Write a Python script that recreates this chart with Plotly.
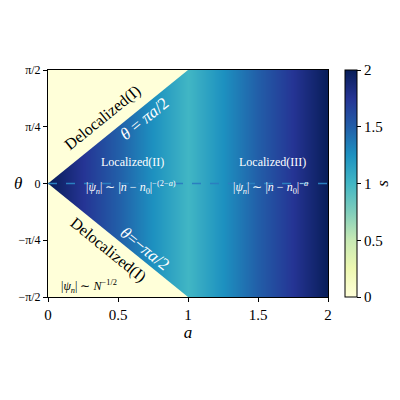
import math
import plotly.graph_objects as go

# ---- data ----
a_vals = [0.0, 0.1, 0.2, 0.3, 0.4, 0.5, 0.6, 0.7, 0.8, 0.9, 1.0,
          1.1, 1.2, 1.3, 1.4, 1.5, 1.6, 1.7, 1.8, 1.9, 2.0]
s_vals = [2.0, 1.9, 1.8, 1.7, 1.6, 1.5, 1.4, 1.3, 1.2, 1.1, 1.0,
          1.1, 1.2, 1.3, 1.4, 1.5, 1.6, 1.7, 1.8, 1.9, 2.0]
theta_edges = [-math.pi / 2, math.pi / 2]

# delocalized wedges (boundary theta = +/- pi a / 2)
deloc_up_a = [0.0, 1.0, 0.0]
deloc_up_theta = [0.0, math.pi / 2, math.pi / 2]
deloc_dn_a = [0.0, 1.0, 0.0]
deloc_dn_theta = [0.0, -math.pi / 2, -math.pi / 2]

dash_a = [0.0, 2.0]
dash_theta = [0.0, 0.0]

ytick_vals = [-math.pi / 2, -math.pi / 4, 0, math.pi / 4, math.pi / 2]
ytick_text = ["−π/2", "−π/4", "0", "π/4", "π/2"]
xtick_vals = [0, 0.5, 1, 1.5, 2]
xtick_text = ["0", "0.5", "1", "1.5", "2"]
cbar_vals = [0, 0.5, 1, 1.5, 2]
cbar_text = ["0", "0.5", "1", "1.5", "2"]

ylgnbu = [[0.0, "#ffffd9"], [0.125, "#edf8b1"], [0.25, "#c7e9b4"],
          [0.375, "#7fcdbb"], [0.5, "#41b6c4"], [0.625, "#1d91c0"],
          [0.75, "#225ea8"], [0.875, "#253494"], [1.0, "#081d58"]]

FONT = "Liberation Serif"

fig = go.Figure()
fig.add_trace(go.Heatmap(
    x=a_vals, y=theta_edges, z=[s_vals, s_vals],
    zmin=0, zmax=2, zsmooth="best", colorscale=ylgnbu,
    colorbar=dict(
        x=1.061, xanchor="left", xref="paper", y=0.5, yanchor="middle",
        len=1.0, lenmode="fraction", thickness=12, thicknessmode="pixels",
        outlinewidth=1, outlinecolor="black", xpad=0, ypad=0,
        tickmode="array", tickvals=cbar_vals, ticktext=cbar_text,
        ticks="outside", ticklen=4, tickcolor="black",
        tickfont=dict(family=FONT, size=15, color="black"),
        title=dict(text="<i>s</i>", side="right",
                   font=dict(family=FONT, size=17, color="black")),
    ),
    hoverinfo="skip",
))
for xa, yt in [(deloc_up_a, deloc_up_theta), (deloc_dn_a, deloc_dn_theta)]:
    fig.add_trace(go.Scatter(x=xa, y=yt, mode="lines", fill="toself",
                             fillcolor="#ffffd9", line=dict(width=0, color="#ffffd9"),
                             showlegend=False, hoverinfo="skip"))
fig.add_trace(go.Scatter(x=dash_a, y=dash_theta, mode="lines",
                         line=dict(color="#2a7fc0", width=1.4, dash="dash"),
                         showlegend=False, hoverinfo="skip"))

def ann(x, y, text, color, size, angle=0):
    fig.add_annotation(x=x, y=y, xref="x", yref="y", text=text, showarrow=False,
                       textangle=angle, font=dict(family=FONT, size=size, color=color))

ann(0.39, 0.90, "Delocalized(I)", "black", 16, -39)
ann(0.69, 0.90, "<i>θ</i> = <i>πa</i>/2", "white", 17, -39)
ann(0.69, -0.90, "<i>θ</i>=−<i>πa</i>/2", "white", 17, 39)
ann(0.60, 0.30, "Localized(II)", "white", 12)
ann(0.59, -0.05, "|<i>ψ</i><sub><i>n</i></sub>| ∼ |<i>n</i> − <i>n</i><sub>0</sub>|<sup>−(2−<i>a</i>)</sup>", "white", 12)
ann(1.60, 0.30, "Localized(III)", "white", 12)
ann(1.59, -0.05, "|<i>ψ</i><sub><i>n</i></sub>| ∼ |<i>n</i> − <i>n</i><sub>0</sub>|<sup>−<i>a</i></sup>", "white", 12)
ann(0.43, -0.92, "Delocalized(I)", "black", 16, 39)
ann(0.29, -1.42, "|<i>ψ</i><sub><i>n</i></sub>| ∼ <i>N</i><sup>−1/2</sup>", "black", 12)

fig.update_xaxes(range=[0, 2], tickmode="array", tickvals=xtick_vals, ticktext=xtick_text,
                 ticks="outside", ticklen=4, tickcolor="black", showgrid=False, zeroline=False,
                 showline=True, linecolor="black", linewidth=1, mirror=True,
                 tickfont=dict(family=FONT, size=15, color="black"),
                 title=dict(text="<i>a</i>", font=dict(family=FONT, size=17, color="black"), standoff=4))
fig.update_yaxes(range=[-math.pi / 2, math.pi / 2], tickmode="array", tickvals=ytick_vals,
                 ticktext=ytick_text, ticks="outside", ticklen=4, tickcolor="black",
                 showgrid=False, zeroline=False,
                 showline=True, linecolor="black", linewidth=1, mirror=True,
                 tickfont=dict(family=FONT, size=12, color="black"))
fig.add_annotation(x=-0.13, y=0.5, xref="paper", yref="paper", text="<i>θ</i>", showarrow=False,
                   font=dict(family=FONT, size=17, color="black"))

fig.update_layout(width=400, height=400,
                  margin=dict(l=40, r=80, t=62, b=111, autoexpand=False),
                  paper_bgcolor="white", plot_bgcolor="white", showlegend=False)
fig.write_html("out.html")
